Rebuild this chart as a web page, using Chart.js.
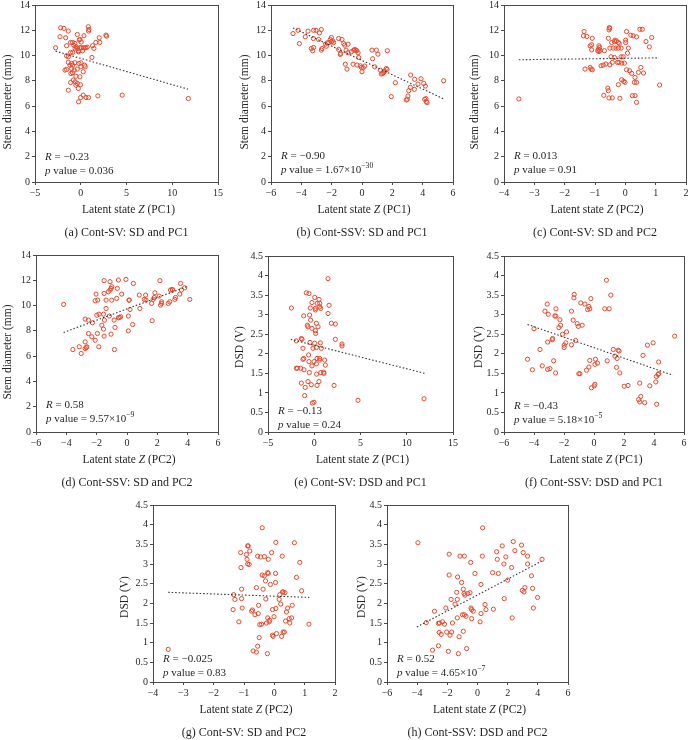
<!DOCTYPE html>
<html><head><meta charset="utf-8">
<script src="https://cdn.jsdelivr.net/npm/chart.js@4.4.1/dist/chart.umd.min.js"></script>
<style>
html,body{margin:0;padding:0;background:#fff;width:688px;height:740px;overflow:hidden;position:relative;font-family:"Liberation Serif","Times New Roman",serif;color:#231f20}
canvas{position:absolute}
.t{position:absolute;white-space:nowrap;line-height:1}
.xt{font-size:11.5px;transform:translateX(-50%)}
.cap{font-size:12px;transform:translateX(-50%)}
.yt{font-size:11.5px;transform:translate(-50%,-50%) rotate(-90deg)}
.ann{font-size:11px}
sup{font-size:.7em;vertical-align:baseline;position:relative;top:-.55em}
</style></head><body>
<script>
// ---------- data ----------
// (a) Cont-SV: SD vs PC1
const aX=[-2.20,-1.84,-2.27,-1.65,-1.36,-0.38,0.82,0.89,0.85,0.35,-0.09,-0.16,0.05,-1.11,-0.89,-0.64,-0.75,-0.53,-1.55,-0.60,-0.35,-0.09,0.05,0.27,0.45,0.56,0.71,-0.24,0.20,-0.24,-1.11,-0.89,1.29,1.44,1.65,2.02,2.09,2.75,2.82,-2.75,-1.55,-1.36,1.22,-1.36,-1.00,-0.89,-0.64,-0.20,0.02,0.02,0.42,0.49,-1.18,-1.00,-0.71,-1.55,-1.73,-0.38,0.27,-0.89,-1.07,-0.53,-0.09,-0.82,-1.11,-0.60,-0.38,-0.02,-0.27,-1.36,-0.53,-0.02,0.27,0.56,0.85,-0.24,1.87,4.53,11.76];
const aY=[12.20,12.15,11.49,11.41,11.94,11.67,12.28,12.07,11.94,11.57,11.28,11.23,11.07,11.04,11.04,10.96,10.80,10.70,10.78,10.57,10.57,10.62,10.62,10.62,10.62,10.62,10.67,10.38,10.38,10.30,10.25,10.25,10.78,10.57,11.04,11.41,11.04,11.62,11.54,10.62,9.98,9.90,9.85,9.46,9.38,9.24,9.43,9.38,9.43,9.11,9.24,9.11,9.24,8.98,8.85,8.90,8.85,8.93,8.72,8.64,8.58,8.37,8.32,8.06,7.87,7.92,7.79,7.69,7.40,7.26,7.66,6.68,6.87,6.68,6.68,6.34,6.81,6.87,6.60];
// (b) Cont-SSV: SD vs PC1
const bX=[-4.55,-4.22,-4.13,-3.74,-3.56,-3.19,-3.03,-2.68,-2.81,-3.21,-2.86,-3.34,-3.19,-3.25,-2.64,-2.68,-2.42,-2.35,-2.29,-2.02,-2.09,-2.02,-1.93,-2.20,-1.87,-1.54,-1.32,-1.21,-1.14,-1.41,-1.43,-1.05,-0.92,-0.92,-0.70,-0.55,-0.48,-0.40,-0.35,-0.26,-0.22,-1.54,-1.10,-0.99,-0.59,-0.33,-0.11,-0.04,0.00,0.07,0.18,0.66,0.95,1.05,0.70,0.84,1.21,1.27,1.36,1.43,1.49,1.65,1.60,1.67,2.20,1.93,3.21,3.47,3.45,3.08,3.03,2.99,2.92,3.19,3.69,3.89,4.07,4.18,4.22,4.13,4.24,4.29,5.38];
const bY=[11.74,12.00,10.95,11.48,11.93,12.00,12.00,12.06,11.79,11.35,11.27,10.56,10.64,10.38,10.56,10.43,10.90,10.74,11.01,11.43,11.27,11.08,11.16,11.01,11.03,11.35,11.27,10.95,10.82,10.17,10.09,10.43,10.90,10.22,10.30,10.43,10.48,10.43,10.38,10.22,9.85,10.48,9.32,8.93,9.32,9.25,9.19,9.06,8.72,9.04,9.17,10.43,10.43,10.11,9.75,9.11,8.85,8.54,8.59,8.64,8.77,8.90,8.98,10.38,7.85,6.75,8.46,8.12,7.33,7.22,6.80,6.54,6.49,7.49,7.75,8.17,7.80,7.59,6.59,6.54,6.36,6.28,8.01];
// (c) Cont-SV: SD vs PC2
const cX=[-3.51,-1.36,-1.38,-1.27,-1.09,-1.11,-1.11,-1.16,-0.87,-0.85,-0.89,-0.91,-0.87,-0.84,-0.54,-0.53,-0.51,-0.69,-0.56,-0.45,-0.36,-0.34,-0.29,-0.23,-0.20,-0.40,-0.31,-0.23,-0.14,-0.51,0.01,0.01,0.04,0.10,0.18,0.26,0.37,0.48,0.56,0.68,0.79,0.87,0.07,-0.07,-0.14,-0.47,-0.36,-0.43,-0.26,-0.21,-0.12,-0.03,-1.33,-1.16,-1.13,-1.09,-0.80,-0.73,-0.64,-0.51,0.04,0.14,0.21,0.32,0.43,0.51,0.60,-0.12,-0.05,-0.01,-0.23,0.30,0.37,-0.58,-0.56,-0.71,-0.54,-0.43,-0.18,0.23,0.32,0.37,1.13];
const cY=[6.57,11.90,11.56,11.51,11.37,10.85,10.45,10.77,10.77,10.64,10.51,10.38,10.32,10.43,12.03,12.21,12.16,10.38,11.37,11.03,11.11,11.22,11.16,11.03,10.95,10.59,10.59,10.59,10.59,10.59,11.22,11.03,11.90,10.59,11.61,11.56,11.48,12.08,12.08,11.11,10.69,11.43,10.19,9.90,9.90,9.90,9.85,9.46,9.46,9.46,9.40,9.40,8.93,9.06,8.93,8.88,9.19,9.25,9.33,9.27,8.88,8.80,8.59,8.27,8.67,9.06,8.62,8.09,7.96,7.88,7.70,7.88,7.88,7.43,7.22,6.86,6.65,6.65,6.62,6.83,6.83,6.30,7.67];
// (d) Cont-SSV: SD vs PC2
const dX=[-4.18,-3.57,-3.15,-3.02,-2.76,-2.76,-2.69,-2.65,-2.76,-2.54,-2.54,-2.32,-2.28,-2.04,-2.10,-1.93,-1.84,-1.99,-2.10,-1.95,-1.86,-1.66,-1.55,-1.51,-1.51,-1.51,-1.55,-1.49,-1.38,-1.38,-1.23,-1.12,-1.05,-1.01,-1.12,-1.01,-1.16,-1.05,-0.85,-0.83,-0.79,-0.68,-0.64,-0.57,-0.57,-0.50,-0.42,-0.35,-0.07,0.13,0.15,0.09,0.09,0.20,0.37,0.42,0.81,0.85,1.23,1.14,1.25,1.62,1.66,1.80,1.84,1.73,2.12,2.17,2.21,2.28,2.28,2.72,2.87,2.82,2.98,3.00,3.15,3.20,3.48,3.53,3.59,3.81,4.14];
const dY=[10.09,6.52,6.74,6.21,7.13,6.60,6.68,6.74,8.93,8.85,7.79,7.53,8.64,10.91,10.38,10.43,9.32,9.24,7.26,7.79,6.74,8.45,8.14,7.58,11.97,10.96,9.32,8.85,9.77,10.43,11.09,11.23,11.36,11.49,11.89,10.43,9.17,7.74,8.85,6.52,8.27,10.57,11.36,12.02,9.03,9.06,9.11,10.91,12.07,10.43,10.43,9.17,8.00,9.69,8.50,11.75,10.83,9.77,10.83,10.49,10.43,10.17,8.80,10.64,11.01,10.49,10.75,11.97,10.04,10.17,10.30,10.17,11.23,10.30,11.28,11.23,10.49,10.64,10.91,11.75,11.23,11.41,10.49];
// (e) Cont-SV: DSD vs PC1
const eX=[-2.47,-1.94,-1.94,-1.83,-1.47,-1.40,-1.32,-1.22,-1.14,-1.22,-1.14,-1.11,-1.40,-0.97,-1.04,-0.86,-0.57,-0.75,-0.68,-0.61,-0.57,-0.53,-0.68,-0.50,-0.43,-0.39,-0.46,-0.32,-0.21,-0.03,-0.25,-0.25,-0.14,-0.25,-0.03,0.05,0.12,0.12,0.23,0.12,0.15,0.05,0.23,0.30,0.23,0.26,0.33,0.41,0.51,0.59,0.59,0.70,0.66,0.77,0.59,0.59,0.51,0.70,1.02,1.05,1.13,1.20,0.30,1.49,1.49,1.60,1.85,2.28,2.28,2.14,3.00,3.00,4.73,11.87];
const eY=[3.17,2.33,1.63,1.63,1.63,2.39,2.37,2.14,2.97,1.86,1.88,1.59,1.25,1.14,0.93,3.56,3.54,2.73,2.69,1.97,1.80,1.52,1.29,2.99,3.17,2.86,2.29,1.21,0.74,0.76,3.31,2.65,2.14,1.69,1.80,3.44,3.16,3.12,2.78,2.59,2.52,2.27,2.16,1.88,1.74,1.48,3.29,2.69,3.39,3.29,3.20,3.16,2.28,2.14,1.88,1.84,1.29,1.52,1.53,1.50,1.84,1.71,1.19,3.92,3.03,3.24,2.78,2.76,2.37,1.19,2.25,2.20,0.81,0.85];
// (f) Cont-SSV: DSD vs PC1
const fX=[-4.43,-4.11,-4.00,-3.60,-3.45,-3.27,-3.12,-3.09,-3.05,-3.09,-2.94,-2.78,-2.76,-2.69,-2.61,-2.54,-2.54,-2.56,-2.34,-2.27,-2.23,-2.10,-1.99,-1.99,-1.83,-1.88,-1.50,-1.39,-1.34,-1.32,-1.50,-1.23,-1.12,-1.05,-1.01,-0.94,-0.88,-0.79,-0.61,-0.50,-0.43,-0.34,-0.28,-0.34,-0.28,-0.21,-0.17,0.01,0.06,0.06,0.10,0.23,0.72,0.83,0.88,1.01,1.12,1.28,1.39,1.50,1.54,1.61,1.67,1.72,2.01,2.27,3.05,2.98,3.05,3.12,3.38,3.27,3.56,3.72,3.94,4.12,4.16,4.27,4.31,4.31,4.18,5.38];
const fY=[1.86,1.59,2.64,2.11,1.69,3.09,3.27,2.30,3.01,1.60,1.62,2.36,2.39,1.82,2.97,2.96,3.15,1.51,2.67,2.87,2.73,2.50,2.22,2.16,2.56,2.28,3.09,2.86,3.43,3.52,2.23,2.34,2.77,2.70,1.49,1.49,3.30,2.73,3.27,1.58,3.13,3.21,3.15,1.66,1.83,3.41,1.13,1.18,1.22,1.73,1.86,1.76,3.15,3.88,1.82,3.15,3.50,2.11,1.94,1.65,1.88,2.09,2.07,1.51,1.17,1.19,1.25,0.83,0.77,0.91,0.75,1.96,2.22,1.18,2.28,1.28,1.42,1.47,1.49,1.79,0.71,2.45];
// (g) Cont-SV: DSD vs PC2
const gX=[-3.50,-1.34,-1.30,-1.36,-1.17,-1.11,-1.10,-1.08,-1.08,-1.06,-0.92,-0.90,-0.88,-0.86,-0.88,-0.83,-0.81,-0.75,-0.72,-0.70,-0.64,-0.59,-0.59,-0.55,-0.55,-0.53,-0.52,-0.50,-0.48,-0.45,-0.42,-0.40,-0.40,-0.37,-0.33,-0.33,-0.29,-0.28,-0.26,-0.23,-0.20,-0.22,-0.20,-0.22,-0.17,-0.15,-0.13,-0.09,-0.06,-0.06,-0.04,-0.01,0.04,0.04,0.05,0.05,0.07,0.16,0.18,0.21,0.24,0.26,0.27,0.29,0.29,0.33,0.35,0.37,0.40,0.44,0.49,0.51,0.57,0.59,0.66,0.73,0.84,0.90,1.14];
const gY=[0.83,2.22,2.10,1.84,1.53,3.29,2.91,2.36,2.12,1.88,3.24,3.12,3.46,3.46,3.00,2.99,3.33,1.80,1.83,0.79,1.71,0.76,2.40,3.20,0.91,1.74,1.95,1.13,1.46,3.18,1.47,3.92,2.72,2.36,3.19,2.70,2.57,2.11,1.50,0.72,3.12,2.78,2.76,1.63,1.53,1.57,2.48,3.29,1.84,1.19,1.16,1.66,2.53,2.76,3.55,1.87,1.23,2.10,2.22,1.98,1.16,3.20,2.29,2.29,1.27,1.27,2.27,1.55,1.78,1.88,1.61,1.50,1.63,1.95,3.54,2.66,3.04,2.32,1.47];
// (h) Cont-SSV: DSD vs PC2
const hX=[-3.95,-3.40,-2.98,-2.85,-2.59,-2.54,-2.59,-2.52,-2.41,-2.32,-2.19,-2.10,-2.04,-1.93,-1.88,-1.88,-1.82,-1.75,-1.71,-1.66,-1.49,-1.38,-1.34,-1.32,-1.34,-1.27,-1.22,-1.16,-1.05,-1.00,-0.94,-0.94,-0.87,-0.89,-0.83,-0.87,-0.76,-0.72,-0.65,-0.50,-0.45,-0.43,-0.39,-0.39,-0.28,-0.17,0.17,0.23,0.23,0.32,0.34,0.50,0.56,1.00,1.05,1.27,1.31,1.38,1.64,1.75,1.77,1.88,2.00,2.26,2.30,2.37,2.48,2.92,3.03,2.97,3.08,3.14,3.32,3.32,3.58,3.65,3.70,3.98,4.28];
const hY=[3.54,1.51,0.81,1.80,0.92,1.26,1.49,1.50,1.21,1.53,1.47,1.88,1.27,0.78,3.25,2.72,1.19,2.10,1.27,1.50,1.98,2.28,2.10,2.67,1.63,0.72,1.15,3.20,2.53,1.71,2.36,1.29,3.20,2.25,2.21,1.71,1.67,0.85,2.25,2.27,3.04,1.88,1.84,1.61,1.80,2.76,1.53,2.48,1.74,3.20,3.92,1.97,1.84,2.78,1.85,3.31,3.12,2.76,3.46,3.00,2.12,3.18,2.59,2.91,1.63,3.57,3.34,3.48,3.29,2.33,2.29,2.40,3.20,3.00,2.70,2.38,1.88,2.15,3.12];
// fitted trend lines: [x start, x end] and [y start, y end]
const trendX=[[-2.75,11.73],[-4.55,5.38],[-3.51,1.11],[-4.18,4.03],[-2.54,11.94],[-4.43,5.27],[-3.50,1.15],[-4.02,4.24]];
const trendY=[[10.35,7.34],[12.19,6.57],[9.67,9.82],[7.87,11.54],[2.37,1.50],[2.75,1.45],[2.28,2.15],[1.40,3.07]];
// axis ranges [min, max, step]
const xRanges=[[-5,15,5],[-6,6,2],[-4,2,1],[-6,6,2],[-5,15,5],[-6,6,2],[-4,2,1],[-6,6,2]];
const yRanges=[[0,14,2],[0,14,2],[0,14,2],[0,14,2],[0,4.5,0.5],[0,4.5,0.5],[0,4.5,0.5],[0,4.5,0.5]];
// texts
const captions=["(a) Cont-SV: SD and PC1","(b) Cont-SSV: SD and PC1","(c) Cont-SV: SD and PC2","(d) Cont-SSV: SD and PC2","(e) Cont-SV: DSD and PC1","(f) Cont-SSV: DSD and PC1","(g) Cont-SV: SD and PC2","(h) Cont-SSV: DSD and PC2"];
const xTitlePC=["PC1","PC1","PC2","PC2","PC1","PC1","PC2","PC2"];
const yTitles=["Stem diameter (mm)","Stem diameter (mm)","Stem diameter (mm)","Stem diameter (mm)","DSD (V)","DSD (V)","DSD (V)","DSD (V)"];
const rValues=["−0.23","−0.90","0.013","0.58","−0.13","−0.43","−0.025","0.52"];
const pMant=["0.036","1.67","0.91","9.57","0.24","5.18","0.83","4.65"];
const pExp=[null,"−30",null,"−9",null,"−5",null,"−7"];

// ---------- layout (page pixels of each plot area: left, top, right, bottom) ----------
const areas=[[35,5,218,182],[271,5,453,182],[504,5,686,182],[36,255,218,432],[268,256,453,432],[504,256,684,432],[153,505,335,682],[387,505,568,682]];
const yTitleDx=[27,26,29,28,28,25,28,25];
const annDy=[26,27,27,28,22,27,24,24];

const pts=[[aX,aY],[bX,bY],[cX,cY],[dX,dY],[eX,eY],[fX,fY],[gX,gY],[hX,hY]];
const INK='#231f20', AXIS='#4a4a4a', DOT='#e5482c';
const FONT='"Liberation Serif","Times New Roman",serif';
const PADL=40,PADT=12,PADR=12,PADB=25;

const boxPlugin={id:'box',beforeDatasetsDraw(chart){const a=chart.chartArea,c=chart.ctx;c.save();c.strokeStyle=AXIS;c.lineWidth=1;c.strokeRect(Math.round(a.left)+0.5,Math.round(a.top)+0.5,Math.round(a.right-a.left),Math.round(a.bottom-a.top));c.restore();}};

function addText(cls,html,x,y){const d=document.createElement('div');d.className='t '+cls;d.innerHTML=html;d.style.left=x+'px';d.style.top=y+'px';document.body.appendChild(d);return d;}

areas.forEach((ar,i)=>{
  const [L,T,R,B]=ar;
  const cv=document.createElement('canvas');
  const W=(R-L)+PADL+PADR, H=(B-T)+PADT+PADB;
  cv.width=W;cv.height=H;cv.style.width=W+'px';cv.style.height=H+'px';
  cv.style.left=(L-PADL)+'px';cv.style.top=(T-PADT)+'px';
  document.body.appendChild(cv);
  const [xs,ys]=pts[i];
  const data=xs.map((x,k)=>({x:x,y:ys[k]}));
  const line=trendX[i].map((x,k)=>({x:x,y:trendY[i][k]}));
  const fmt=v=>String(v).replace('-','−');
  new Chart(cv,{
    type:'scatter',
    data:{datasets:[
      {data:line,showLine:true,borderColor:'#333',borderWidth:1.1,borderDash:[1.5,2],pointRadius:0,fill:false},
      {data:data,pointStyle:'circle',pointRadius:2.1,pointBorderWidth:1,borderColor:DOT,backgroundColor:'rgba(255,255,255,0)',pointBackgroundColor:'rgba(255,255,255,0)'}
    ]},
    options:{
      responsive:false,animation:false,
      layout:{padding:{left:0,top:PADT,right:PADR,bottom:0}},
      plugins:{legend:{display:false},tooltip:{enabled:false}},
      scales:{
        x:{type:'linear',min:xRanges[i][0],max:xRanges[i][1],
           afterFit:s=>{s.height=PADB;},
           border:{display:false},
           grid:{drawOnChartArea:false,drawTicks:true,tickLength:3,color:AXIS},
           ticks:{stepSize:xRanges[i][2],color:INK,font:{family:FONT,size:10},padding:2,maxRotation:0,callback:fmt}},
        y:{type:'linear',min:yRanges[i][0],max:yRanges[i][1],
           afterFit:s=>{s.width=PADL;},
           border:{display:false},
           grid:{drawOnChartArea:false,drawTicks:true,tickLength:3,color:AXIS},
           ticks:{stepSize:yRanges[i][2],color:INK,font:{family:FONT,size:10},padding:2,callback:fmt}}
      }
    },
    plugins:[boxPlugin]
  });
  const cx=(L+R)/2+2;
  addText('xt','Latent state <i>Z</i> ('+xTitlePC[i]+')',cx,B+22);
  addText('cap',captions[i],(L+R)/2,B+44);
  addText('yt',yTitles[i],L-yTitleDx[i],(T+B)/2+(i<4?8:3));
  addText('ann','<i>R</i> = '+rValues[i],L+10,B-annDy[i]-5.5);
  addText('ann','<i>p</i> value = '+pMant[i]+(pExp[i]?'×10<sup>'+pExp[i]+'</sup>':''),L+10,B-annDy[i]+8.5);
});
</script>
</body></html>
